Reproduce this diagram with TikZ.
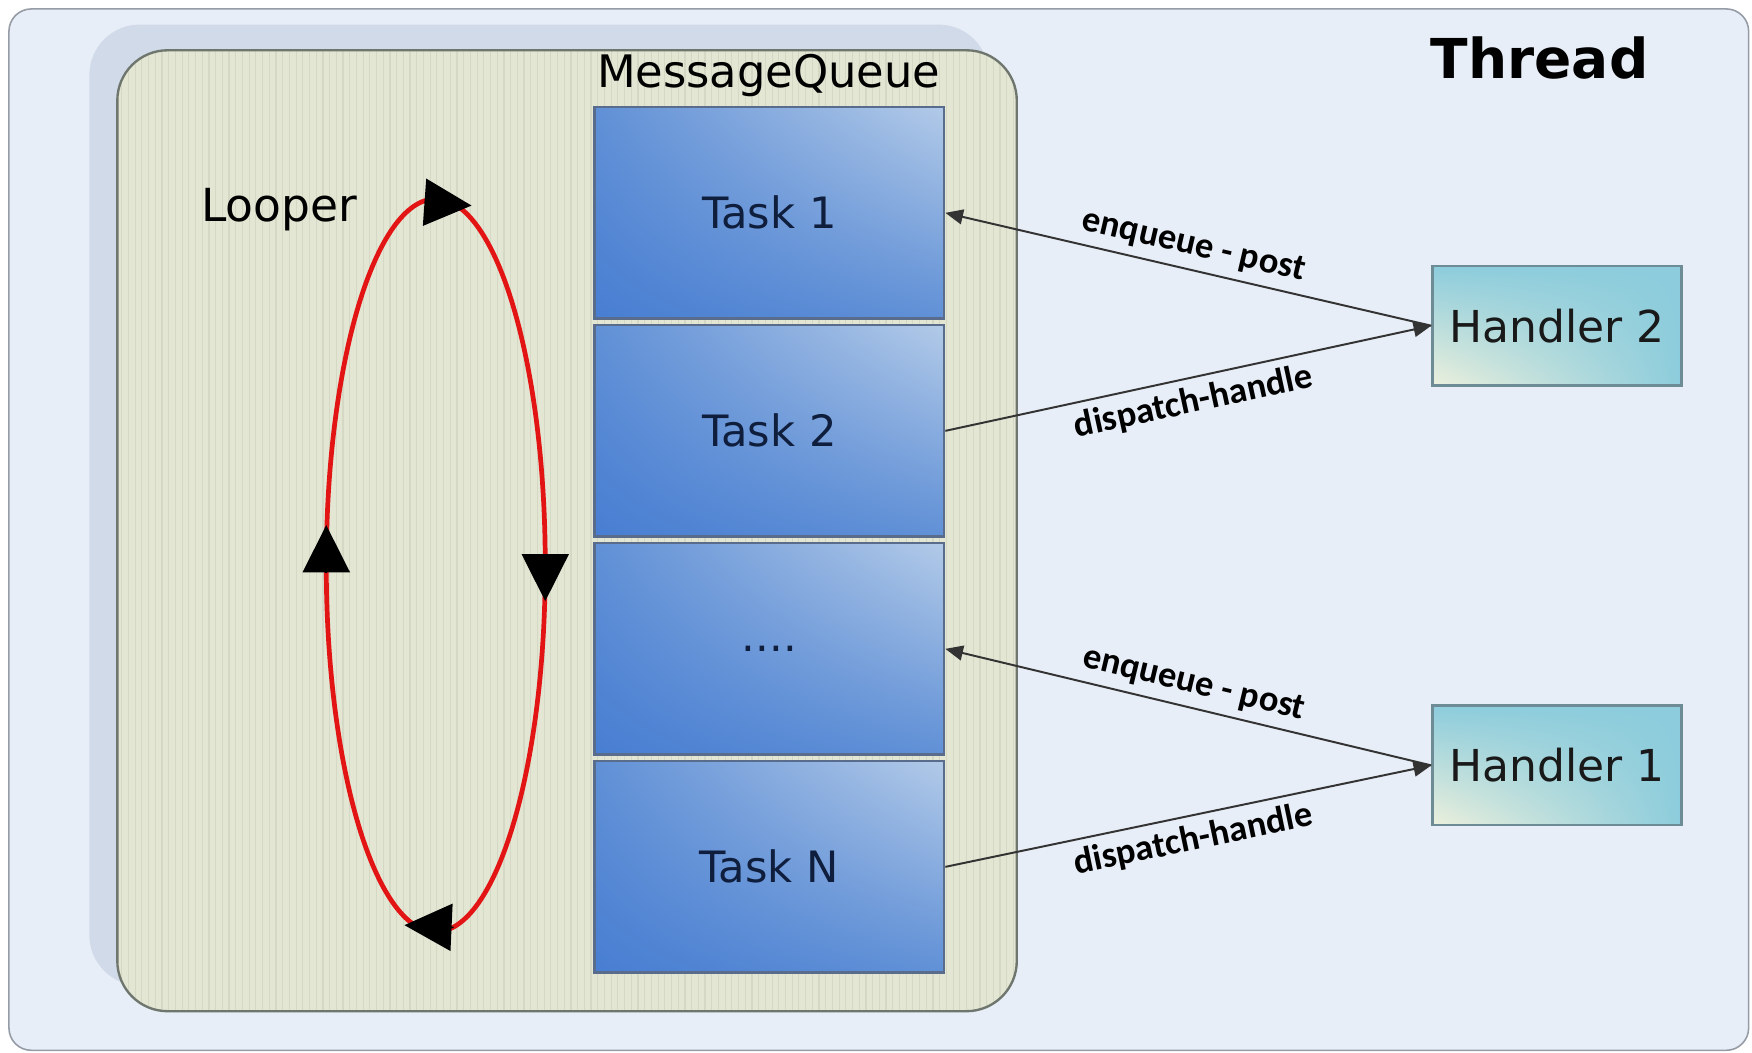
\documentclass[tikz,border=0pt]{standalone}
\usepackage{fontspec}
\setmainfont{DejaVu Sans}
\newfontfamily\labelfont{Carlito}
\usetikzlibrary{
    positioning,
    arrows.meta,
    calc,
    shadings
}
\definecolor{frameBlue}{RGB}{232, 238, 247}
\definecolor{frameLine}{RGB}{150, 156, 166}
\definecolor{shadowBlue}{RGB}{208, 218, 232}
\definecolor{queueBeige}{RGB}{228, 230, 212}
\definecolor{queueStripe}{RGB}{212, 216, 196}
\definecolor{queueLine}{RGB}{110, 118, 110}
\definecolor{taskDark}{RGB}{72, 126, 210}
\definecolor{taskMid}{RGB}{96, 144, 214}
\definecolor{taskLight}{RGB}{178, 202, 232}
\definecolor{taskLine}{RGB}{90, 108, 140}
\definecolor{taskText}{RGB}{15, 30, 60}
\definecolor{handlerTeal}{RGB}{140, 204, 220}
\definecolor{handlerPale}{RGB}{236, 240, 220}
\definecolor{handlerLine}{RGB}{110, 140, 150}
\definecolor{loopRed}{RGB}{226, 20, 20}

\begin{document}
\begin{tikzpicture}[x=0.1mm, y=-0.1mm, >={Triangle[length=4.5pt, width=3.8pt]},
    task/.style={draw=taskLine, line width=0.6pt, minimum width=31.3mm, minimum height=18.9mm,
        upper left=taskMid, upper right=taskLight, lower left=taskDark, lower right=taskMid,
        text=taskText, font=\fontsize{11}{13}\selectfont},
    handler/.style={draw=handlerLine, line width=0.6pt, minimum width=22.3mm, minimum height=10.7mm,
        upper left=handlerTeal, upper right=handlerTeal, lower left=handlerPale, lower right=handlerTeal,
        text=black!90, font=\fontsize{11.2}{13}\selectfont},
    msgline/.style={draw=black!80, line width=0.5pt},
    msglabel/.style={font=\labelfont\bfseries\fontsize{9.3}{11}\selectfont, inner sep=2pt},
    looptip/.style={draw=black, -{Triangle[length=12pt, width=12pt]}}
    ]
    \useasboundingbox (0,0) rectangle (1568,942.4);
    % thread frame
    \draw[frameLine, fill=frameBlue, rounded corners=2mm] (8,8) rectangle (1565,940);
    \node[font=\bfseries\fontsize{14}{17}\selectfont] (thread) at (1378,52) {Thread};

    % message queue container with its shadow
    \fill[shadowBlue, rounded corners=4.5mm] (80,22) rectangle (885,882);
    \fill[queueBeige, rounded corners=4.5mm] (105,45) rectangle (910,905);
    \begin{scope}
        \clip[rounded corners=4.5mm] (105,45) rectangle (910,905);
        \foreach \x in {109,115,...,907}
            \draw[queueStripe, line width=0.3pt] (\x,45) -- (\x,905);
    \end{scope}
    \draw[queueLine, line width=0.6pt, rounded corners=4.5mm] (105,45) rectangle (910,905);
    \node[font=\fontsize{11.4}{13}\selectfont] (queue) at (688,68) {MessageQueue};

    \node[task] (task1) at (688.5,190.5) {Task 1};
    \node[task, below=0.4mm of task1] (task2) {Task 2};
    \node[task, below=0.4mm of task2] (taskdots) {....};
    \node[task, below=0.4mm of taskdots] (taskN) {Task N};

    % looper
    \node[font=\fontsize{11.6}{13}\selectfont] (looper) at (250,188) {Looper};
    \draw[loopRed, line width=1.2pt] (390,506) ellipse [x radius=98, y radius=328];
    \draw[looptip] (380,181) -- (422,184);
    \draw[looptip] (488,496) -- (488,538);
    \draw[looptip] (406,830) -- (362,828);
    \draw[looptip] (292,512) -- (292,470);

    % handlers
    \node[handler] (handler2) at (1393.5,291.5) {Handler 2};
    \node[handler] (handler1) at (1393.5,685) {Handler 1};

    \draw[msgline, <-] (task1.east) -- (handler2.west) node[msglabel, midway, above, sloped] {enqueue - post};
    \draw[msgline, ->] (task2.east) -- (handler2.west) node[msglabel, midway, below, sloped] {dispatch-handle};
    \draw[msgline, <-] (taskdots.east) -- (handler1.west) node[msglabel, midway, above, sloped] {enqueue - post};
    \draw[msgline, ->] (taskN.east) -- (handler1.west) node[msglabel, midway, below, sloped] {dispatch-handle};
\end{tikzpicture}
\end{document}
